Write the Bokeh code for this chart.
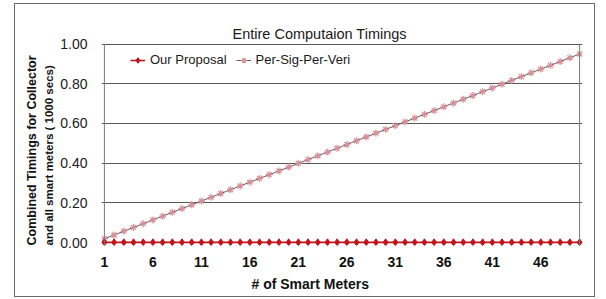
import math
from bokeh.plotting import figure
from bokeh.models import (Range1d, FixedTicker, PrintfTickFormatter, Span, Legend, Title)
from bokeh.embed import file_html
from bokeh.resources import INLINE

# ---- data ----
meters = list(range(1, 51))
our_proposal = [0.001, 0.001, 0.001, 0.001, 0.001, 0.001, 0.001, 0.001, 0.001, 0.001,
                0.001, 0.001, 0.001, 0.001, 0.001, 0.001, 0.001, 0.001, 0.001, 0.001,
                0.001, 0.001, 0.001, 0.001, 0.001, 0.001, 0.001, 0.001, 0.001, 0.001,
                0.001, 0.001, 0.001, 0.001, 0.001, 0.001, 0.001, 0.001, 0.001, 0.001,
                0.001, 0.001, 0.001, 0.001, 0.001, 0.001, 0.001, 0.001, 0.001, 0.001]
per_sig_per_veri = [0.019, 0.038, 0.057, 0.076, 0.095, 0.114, 0.133, 0.152, 0.171, 0.190,
                    0.209, 0.228, 0.247, 0.266, 0.285, 0.304, 0.323, 0.342, 0.361, 0.380,
                    0.399, 0.418, 0.437, 0.456, 0.475, 0.494, 0.513, 0.532, 0.551, 0.570,
                    0.589, 0.608, 0.627, 0.646, 0.665, 0.684, 0.703, 0.722, 0.741, 0.760,
                    0.779, 0.798, 0.817, 0.836, 0.855, 0.874, 0.893, 0.912, 0.931, 0.950]
x_ticks = [1, 6, 11, 16, 21, 26, 31, 36, 41, 46]
y_ticks = [0.0, 0.2, 0.4, 0.6, 0.8, 1.0]
title_text = "Entire Computaion Timings"
x_title = "# of Smart Meters"
y_title_1 = "Combined Timings for Collector"
y_title_2 = "and all smart meters ( 1000 secs)"
series_names = ["Our Proposal", "Per-Sig-Per-Veri"]

X0, X1 = 0.7, 50.3
Y0, Y1 = -0.015, 1.003
FONT = "Liberation Sans"

p = figure(width=581, height=294, output_backend="svg", toolbar_location=None,
           x_range=Range1d(X0, X1), y_range=Range1d(Y0, Y1),
           min_border_left=86, min_border_right=14, min_border_top=39, min_border_bottom=53)
p.margin = (3, 0, 0, 14)
p.styles = {"border": "1px solid #6b6b6b", "box-sizing": "border-box"}
p.outline_line_color = None
p.background_fill_color = "white"
p.border_fill_color = "white"

# spacer title next to the frame, real title above it
p.title.text = " "
p.title.text_font_size = "1px"
p.title.standoff = 13
p.add_layout(Title(text=title_text, align="left", offset=131, standoff=4,
                   text_font=FONT, text_font_size="14.5px", text_font_style="normal",
                   text_color="#1a1a1a"), "above")

p.xgrid.grid_line_color = None
p.ygrid.ticker = FixedTicker(ticks=y_ticks)
p.ygrid.grid_line_color = "#585858"
p.ygrid.grid_line_width = 1

p.yaxis.ticker = FixedTicker(ticks=y_ticks)
p.yaxis.formatter = PrintfTickFormatter(format="%.2f")
p.yaxis.axis_line_color = None
p.yaxis.major_tick_line_color = None
p.yaxis.minor_tick_line_color = None
p.yaxis.major_label_text_font = FONT
p.yaxis.major_label_text_font_size = "14px"
p.yaxis.major_label_text_color = "#1a1a1a"
p.yaxis.major_label_standoff = 8

p.xaxis.ticker = FixedTicker(ticks=x_ticks)
p.xaxis.axis_line_color = None
p.xaxis.major_tick_line_color = None
p.xaxis.minor_tick_line_color = None
p.xaxis.major_label_text_font = FONT
p.xaxis.major_label_text_font_size = "14px"
p.xaxis.major_label_text_font_style = "bold"
p.xaxis.major_label_text_color = "#111111"
p.xaxis.major_label_standoff = 5

# axis titles as extra side titles
p.add_layout(Title(text=x_title, align="left", offset=150, standoff=9,
                   text_font=FONT, text_font_size="14px", text_font_style="bold",
                   text_color="#111111"), "below")
p.add_layout(Title(text=y_title_2, align="left", offset=0, standoff=6,
                   text_font=FONT, text_font_size="11.5px", text_font_style="bold",
                   text_color="#111111"), "left")
p.add_layout(Title(text=y_title_1, align="left", offset=0, standoff=-2,
                   text_font=FONT, text_font_size="12.5px", text_font_style="bold",
                   text_color="#111111"), "left")

p.add_layout(Span(location=1, dimension="height", line_color="#7a7a7a", line_width=1))
p.add_layout(Span(location=50, dimension="height", line_color="#7a7a7a", line_width=1))

r1l = p.line(meters, per_sig_per_veri, line_color="#55606e", line_width=1)
r1m = p.scatter(meters, per_sig_per_veri, marker="asterisk", size=7,
                line_color="#d98f95", line_width=1.2)
r2l = p.line(meters, our_proposal, line_color="#c0141c", line_width=1.6)
r2m = p.scatter(meters, our_proposal, marker="diamond", size=7,
                fill_color="#c0141c", line_color="#c0141c")

legend = Legend(items=[(series_names[0], [r2l, r2m]), (series_names[1], [r1l, r1m])],
                orientation="horizontal", location=(29, 178),
                border_line_color=None, background_fill_alpha=0,
                label_text_font=FONT, label_text_font_size="13px", label_text_color="#1a1a1a",
                glyph_width=15, glyph_height=14, label_height=14, label_standoff=5,
                spacing=9, padding=3, margin=0)
p.add_layout(legend)

open("out.html", "w").write(file_html(p, INLINE))
